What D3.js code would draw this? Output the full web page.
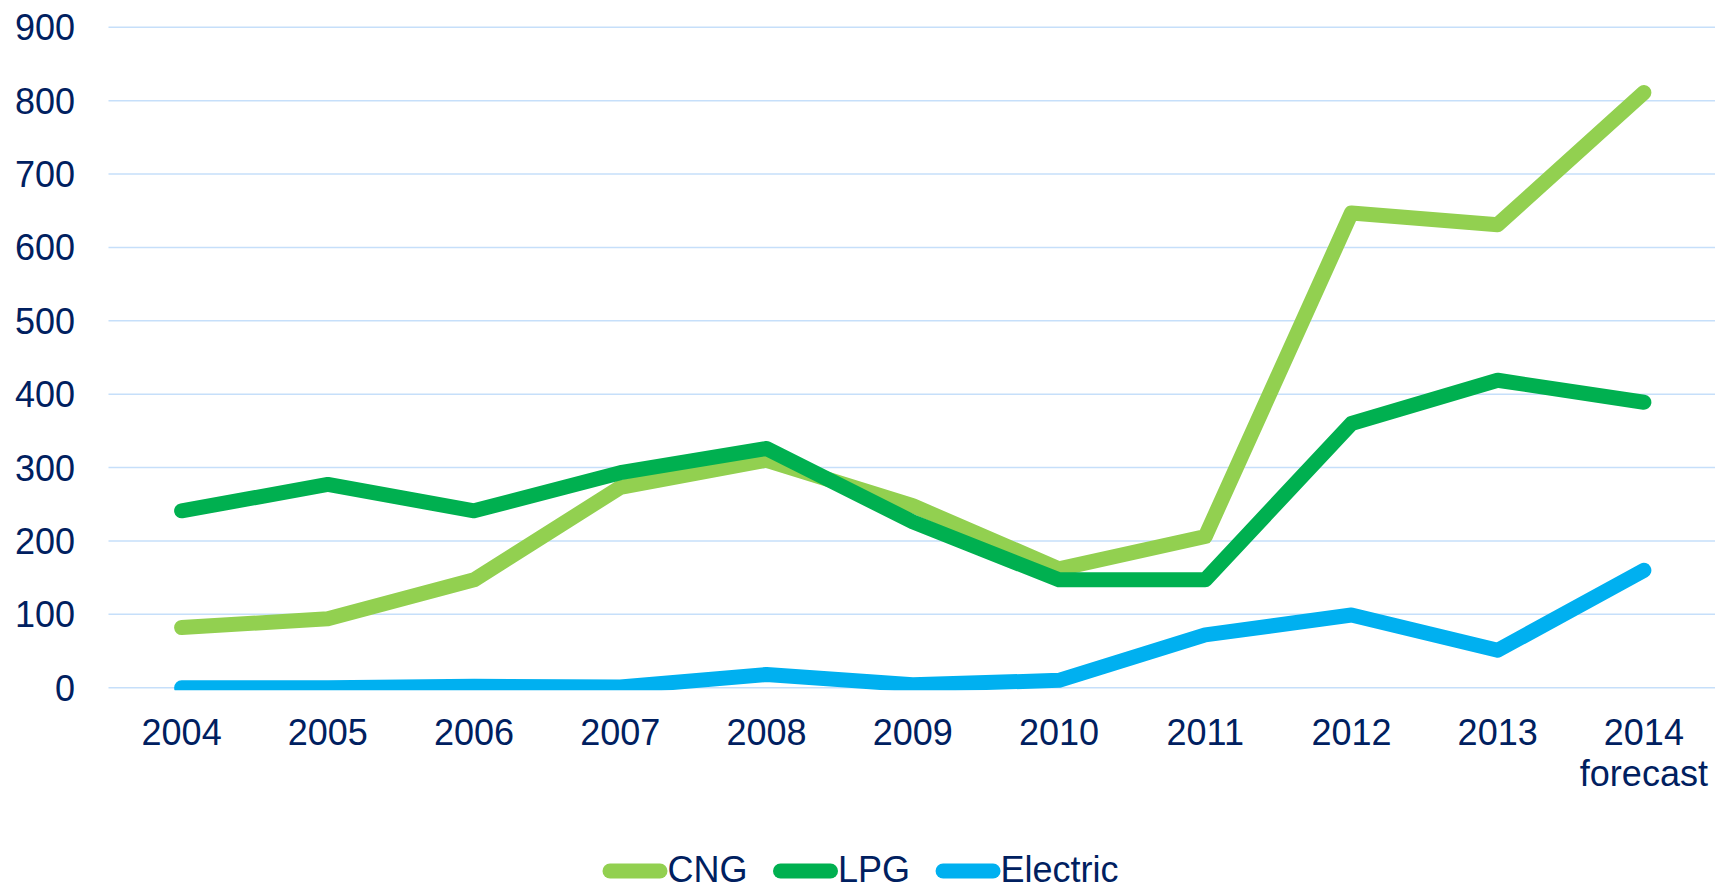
<!DOCTYPE html>
<html>
<head>
<meta charset="utf-8">
<script src="https://cdn.jsdelivr.net/npm/d3@7"></script>
<style>
  html, body { margin: 0; padding: 0; background: #fff; }
  svg { display: block; font-family: "Liberation Sans", Arial, sans-serif; }
</style>
</head>
<body>
<div id="chart"></div>
<script>
const years = ["2004", "2005", "2006", "2007", "2008", "2009", "2010", "2011", "2012", "2013", "2014"];
const yearLabels = [["2004"], ["2005"], ["2006"], ["2007"], ["2008"], ["2009"], ["2010"], ["2011"], ["2012"], ["2013"], ["2014", "forecast"]];
const cng = [82, 94, 147, 273, 310, 248, 162, 206, 647, 631, 811];
const lpg = [241, 277, 241, 293, 326, 226, 147, 147, 360, 419, 389];
const electric = [0, 0, 2, 1, 18, 4, 10, 72, 99, 51, 160];
const yTicks = [0, 100, 200, 300, 400, 500, 600, 700, 800, 900];

const seriesList = [
  { name: "CNG", values: cng, colour: "#92D050" },
  { name: "LPG", values: lpg, colour: "#00B050" },
  { name: "Electric", values: electric, colour: "#00B0F0" },
];

const width = 1715;
const height = 886;
const textColour = "#002060";
const gridColour = "#C6DFFA";

const x = d3.scaleBand().domain(years).range([108.5, 1717]);
const y = d3.scaleLinear().domain([0, 900]).range([687.7, 27.3]);

const svg = d3
  .select("#chart")
  .append("svg")
  .attr("width", width)
  .attr("height", height);

svg
  .append("defs")
  .append("clipPath")
  .attr("id", "plotClip")
  .append("rect")
  .attr("x", 0)
  .attr("y", 0)
  .attr("width", width)
  .attr("height", y(0) + 2.5);

// gridlines
svg
  .append("g")
  .selectAll("line")
  .data(yTicks)
  .join("line")
  .attr("x1", x.range()[0])
  .attr("x2", width)
  .attr("y1", (d) => y(d))
  .attr("y2", (d) => y(d))
  .attr("stroke", gridColour)
  .attr("stroke-width", 1.5);

// y labels
svg
  .append("g")
  .selectAll("text")
  .data(yTicks)
  .join("text")
  .attr("x", 75)
  .attr("y", (d) => y(d))
  .attr("dy", "0.36em")
  .attr("text-anchor", "end")
  .attr("fill", textColour)
  .style("font-size", "36px")
  .text((d) => d);

// x labels
const xLab = svg
  .append("g")
  .selectAll("text")
  .data(years)
  .join("text")
  .attr("x", (d) => x(d) + x.bandwidth() / 2)
  .attr("y", 745)
  .attr("text-anchor", "middle")
  .attr("fill", textColour)
  .style("font-size", "36px");

xLab
  .selectAll("tspan")
  .data((d, i) => yearLabels[i])
  .join("tspan")
  .attr("x", function () {
    return this.parentNode.getAttribute("x");
  })
  .attr("dy", (d, i) => (i === 0 ? 0 : 40.5))
  .text((d) => d);

// lines
const line = d3
  .line()
  .x((d, i) => x(years[i]) + x.bandwidth() / 2)
  .y((d) => y(d));

svg
  .append("g")
  .attr("clip-path", "url(#plotClip)")
  .selectAll("path")
  .data(seriesList)
  .join("path")
  .attr("d", (d) => line(d.values))
  .attr("fill", "none")
  .attr("stroke", (d) => d.colour)
  .attr("stroke-width", 15)
  .attr("stroke-linecap", "round")
  .attr("stroke-linejoin", "round");

// legend
const legend = svg.append("g").attr("transform", "translate(602.5, 871)");
const swatchW = 65;
const gap = 25.5;
let cursor = 0;

seriesList.forEach((s) => {
  const item = legend.append("g").attr("transform", `translate(${cursor}, 0)`);
  item
    .append("line")
    .attr("x1", 7.5)
    .attr("x2", swatchW - 7.5)
    .attr("stroke", s.colour)
    .attr("stroke-width", 15)
    .attr("stroke-linecap", "round");
  const label = item
    .append("text")
    .attr("x", swatchW)
    .attr("y", 11)
    .attr("fill", textColour)
    .style("font-size", "36px")
    .text(s.name);
  cursor += swatchW + label.node().getComputedTextLength() + gap;
});
</script>
</body>
</html>
